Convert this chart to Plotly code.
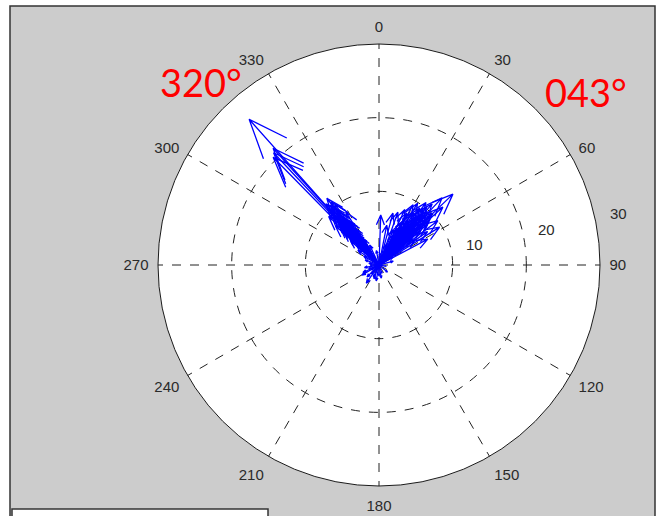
import math
import plotly.graph_objects as go

# Compass vectors: direction (degrees clockwise from north) and magnitude
direction_deg = [
    318.3, 317.8, 315.5, 316.8, 322.0, 320.8, 319.0, 322.6, 322.5, 320.0,
    318.0, 325.0, 322.6, 316.0, 327.0, 313.0, 320.0, 324.0, 318.0, 330.0,
    310.0, 322.0, 315.0, 326.0, 320.0, 335.0, 305.0, 312.0, 328.0, 318.0,
    324.0, 314.0, 319.5, 321.5, 317.0, 323.5, 311.0,
    321.0, 319.0, 323.0, 317.5, 325.5, 320.5, 318.5, 322.8, 316.5, 314.5,
    326.5, 321.0, 319.0, 312.5, 327.5, 320.0, 323.0, 317.0,
    319.8, 321.8, 324.5, 316.2, 318.8, 322.2, 315.2, 320.2, 323.8, 317.8,
    313.8, 326.0, 319.2, 321.2, 318.2,
    46.2, 43.2, 47.8, 46.7, 45.5, 35.7, 32.0, 29.5, 25.0, 19.7,
    15.0, 2.0, 11.0, 40.0, 38.0, 42.0, 35.0, 50.0, 55.0, 44.0,
    30.0, 36.0, 48.0, 25.0, 40.0, 52.0, 20.0, 33.0, 45.0, 58.0,
    62.0, 28.0, 41.0, 37.0, 53.0,
    38.5, 42.5, 45.0, 33.5, 28.0, 47.0, 36.5, 41.5, 31.0, 50.5,
    43.5, 39.5, 34.0, 26.5, 48.5, 44.5, 37.5, 22.0, 55.5, 30.5,
    39.0, 44.0, 41.0, 46.0, 36.0, 49.5, 32.5, 42.0, 38.0, 47.5,
    35.0, 43.0, 51.5, 29.0, 40.5,
    239.5, 200.0, 225.0, 250.0, 180.0, 215.0, 160.0, 270.0, 100.0, 130.0,
    290.0, 350.0, 75.0, 205.0, 235.0, 190.0, 260.0, 220.0, 245.0, 170.0,
    280.0, 5.0, 60.0, 300.0,
]
magnitude = [
    26.5, 21.4, 20.5, 20.9, 11.5, 10.5, 11.0, 9.4, 8.0, 9.0,
    8.5, 7.5, 6.5, 7.0, 6.0, 6.5, 5.5, 5.0, 4.5, 4.0,
    5.0, 3.5, 3.0, 2.5, 2.0, 3.0, 3.5, 8.0, 8.5, 10.0,
    10.2, 9.5, 7.2, 4.2, 5.8, 6.0, 4.0,
    7.8, 6.2, 4.8, 3.8, 5.2, 8.7, 9.7, 10.8, 8.2, 6.8,
    7.0, 3.0, 2.6, 5.5, 4.5, 6.8, 7.6, 9.1,
    8.4, 7.0, 6.4, 7.6, 5.4, 9.2, 5.9, 10.1, 8.0, 6.6,
    7.3, 5.6, 4.3, 6.0, 7.9,
    13.9, 12.5, 11.7, 9.9, 10.1, 9.5, 9.9, 9.4, 8.3, 7.6,
    7.3, 6.8, 5.5, 9.0, 8.0, 7.0, 6.5, 8.5, 6.0, 5.5,
    5.0, 4.0, 4.5, 4.5, 3.0, 3.5, 3.0, 2.5, 2.0, 9.7,
    7.5, 6.5, 11.0, 10.6, 10.0,
    9.6, 8.7, 7.8, 7.2, 8.0, 6.8, 5.8, 5.2, 6.0, 7.2,
    9.4, 10.2, 8.5, 5.6, 9.0, 3.8, 3.2, 5.2, 8.0, 3.6,
    8.2, 6.2, 7.5, 8.8, 7.0, 6.0, 8.6, 9.8, 6.6, 7.8,
    5.0, 4.6, 5.6, 7.0, 4.2,
    2.7, 2.0, 2.3, 1.5, 1.5, 3.0, 1.2, 1.2, 1.0, 1.5,
    2.0, 2.0, 2.0, 1.8, 1.2, 2.2, 2.0, 1.6, 2.4, 1.8,
    1.4, 1.6, 2.2, 2.4,
]

angle_ticks = list(range(0, 360, 30))
radial_ticks = [10, 20, 30]
callouts = ["320°", "043°"]

# Arrow head geometry (fraction of shaft length, half-width fraction)
HEAD_BACK, HEAD_HALF = 0.8, 0.08
head_r = math.hypot(HEAD_BACK, HEAD_HALF)
head_da = math.degrees(math.atan2(HEAD_HALF, HEAD_BACK))

r_pts, t_pts = [], []
for a, m in zip(direction_deg, magnitude):
    r_pts += [0, m, m * head_r, m, m * head_r, None]
    t_pts += [a, a, a - head_da, a, a + head_da, None]

fig = go.Figure()
fig.add_trace(go.Scatterpolar(
    r=r_pts, theta=t_pts, mode="lines",
    line=dict(color="#0000ff", width=1.3),
    connectgaps=False, hoverinfo="skip", showlegend=False,
))

W, H = 657, 516
cx, cy, R = 379, 265, 221
RMAX = 30
LABEL_ANGLE = math.radians(78)
LABEL_OFFSET = 3.3
label_font = dict(family="Liberation Sans, Arial", size=15, color="#2a2a2a")

# radial value labels placed just beyond each ring, along a fixed bearing
radial_annotations = []
for v in radial_ticks:
    rp = (v + LABEL_OFFSET) * R / RMAX
    px = cx + rp * math.sin(LABEL_ANGLE)
    py = cy - rp * math.cos(LABEL_ANGLE)
    radial_annotations.append(dict(
        text=str(v), xref="paper", yref="paper", x=px / W, y=1 - py / H,
        xanchor="center", yanchor="middle", showarrow=False, font=label_font,
    ))

fig.update_layout(
    width=W, height=H,
    margin=dict(l=0, r=0, t=0, b=0),
    paper_bgcolor="white",
    showlegend=False,
    polar=dict(
        domain=dict(x=[(cx - R) / W, (cx + R) / W],
                    y=[(H - cy - R) / H, (H - cy + R) / H]),
        bgcolor="white",
        angularaxis=dict(
            rotation=90, direction="clockwise",
            tickmode="array", tickvals=angle_ticks,
            ticktext=[str(v) for v in angle_ticks],
            ticks="outside", ticklen=6, tickcolor="rgba(0,0,0,0)",
            tickfont=label_font,
            showline=True, linecolor="#1a1a1a", linewidth=1,
            showgrid=True, gridcolor="#222222", gridwidth=1, griddash="dash",
        ),
        radialaxis=dict(
            range=[0, RMAX], tickmode="array", tickvals=radial_ticks,
            showticklabels=False, ticks="", showline=False,
            showgrid=True, gridcolor="#222222", gridwidth=1, griddash="dash",
        ),
    ),
    shapes=[
        dict(type="rect", xref="paper", yref="paper", layer="below",
             x0=10 / W, x1=655 / W, y0=-0.05, y1=1 - 6 / H,
             fillcolor="#cccccc", line=dict(color="#333333", width=1.5)),
        dict(type="rect", xref="paper", yref="paper", layer="above",
             x0=12 / W, x1=268 / W, y0=-0.05, y1=1 - 509 / H,
             fillcolor="white", line=dict(color="#333333", width=1.5)),
    ],
    annotations=radial_annotations + [
        dict(text=callouts[0], xref="paper", yref="paper",
             x=201 / W, y=1 - 82 / H, xanchor="center", yanchor="middle",
             showarrow=False,
             font=dict(family="Lato, Open Sans", size=38, color="#ff0000")),
        dict(text=callouts[1], xref="paper", yref="paper",
             x=586 / W, y=1 - 92 / H, xanchor="center", yanchor="middle",
             showarrow=False,
             font=dict(family="Lato, Open Sans", size=38, color="#ff0000")),
    ],
)

fig.write_html("out.html")
